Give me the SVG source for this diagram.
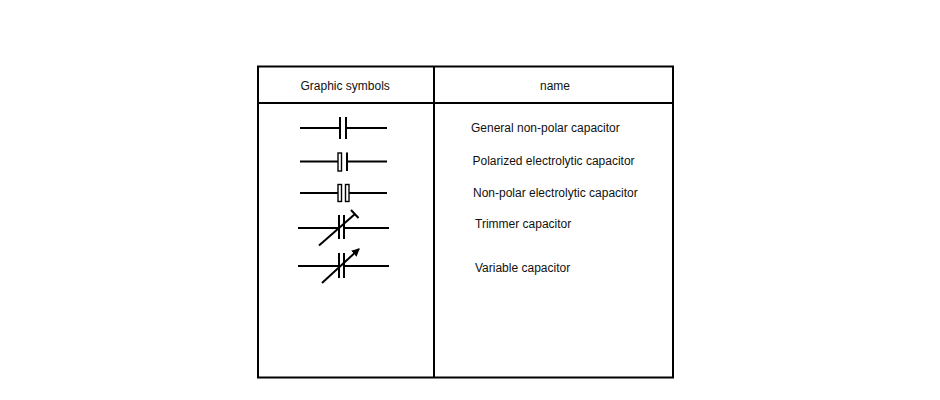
<svg xmlns="http://www.w3.org/2000/svg" width="940" height="400" viewBox="0 0 940 400">
<style>
.t{font-family:"Liberation Sans",Arial,sans-serif;font-size:12px;fill:#111}
.b{stroke:#000;stroke-width:2;fill:none}
.s{stroke:#000;stroke-width:2;fill:none}
.r{stroke:#000;stroke-width:1.4;fill:#fff}
</style>
<defs>
<marker id="ah" markerWidth="8" markerHeight="8" refX="7" refY="4" orient="auto" markerUnits="userSpaceOnUse">
<path d="M0,0 L8,4 L0,8 Z" fill="#000"/>
</marker>
</defs>
<rect width="940" height="400" fill="#fff"/>
<g id="table">
<rect class="b" x="258" y="66.5" width="415" height="311"/>
<line class="b" x1="258" y1="103" x2="673" y2="103"/>
<line class="b" x1="434" y1="66.5" x2="434" y2="377.5"/>
<text class="t" x="300.5" y="90">Graphic symbols</text>
<text class="t" x="540" y="90">name</text>
</g>
<g id="general-non-polar">
<line class="s" x1="300" y1="128" x2="340" y2="128"/>
<line class="s" x1="346" y1="128" x2="387" y2="128"/>
<line class="s" x1="340" y1="117" x2="340" y2="139"/>
<line class="s" x1="346" y1="117" x2="346" y2="139"/>
<text class="t" x="471" y="131.5">General non-polar capacitor</text>
</g>
<g id="polarized-electrolytic">
<line class="s" x1="300" y1="161.5" x2="338" y2="161.5"/>
<line class="s" x1="347" y1="161.5" x2="387" y2="161.5"/>
<rect class="r" x="338" y="153" width="3.5" height="18"/>
<line class="s" x1="347" y1="152.5" x2="347" y2="171"/>
<text class="t" x="472.5" y="164.5">Polarized electrolytic capacitor</text>
</g>
<g id="non-polar-electrolytic">
<line class="s" x1="300" y1="193" x2="338" y2="193"/>
<line class="s" x1="349" y1="193" x2="387" y2="193"/>
<rect class="r" x="338" y="184.5" width="3.5" height="17"/>
<rect class="r" x="345.5" y="184.5" width="3.5" height="17"/>
<text class="t" x="473" y="196.5">Non-polar electrolytic capacitor</text>
</g>
<g id="trimmer">
<line class="s" x1="298" y1="228" x2="339" y2="228"/>
<line class="s" x1="344" y1="228" x2="389" y2="228"/>
<line class="s" x1="339" y1="215" x2="339" y2="239"/>
<line class="s" x1="344" y1="215" x2="344" y2="239"/>
<line class="s" x1="319" y1="245.5" x2="355" y2="214" stroke-width="1.6"/>
<line class="s" x1="351" y1="210" x2="358.5" y2="218" stroke-width="1.6"/>
<text class="t" x="475" y="227.5">Trimmer capacitor</text>
</g>
<g id="variable">
<line class="s" x1="298" y1="266" x2="339" y2="266"/>
<line class="s" x1="344" y1="266" x2="389" y2="266"/>
<line class="s" x1="339" y1="253" x2="339" y2="278"/>
<line class="s" x1="344" y1="253" x2="344" y2="278"/>
<line class="s" x1="322" y1="283" x2="359" y2="249" stroke-width="1.6" marker-end="url(#ah)"/>
<text class="t" x="475" y="271.5">Variable capacitor</text>
</g>
</svg>
